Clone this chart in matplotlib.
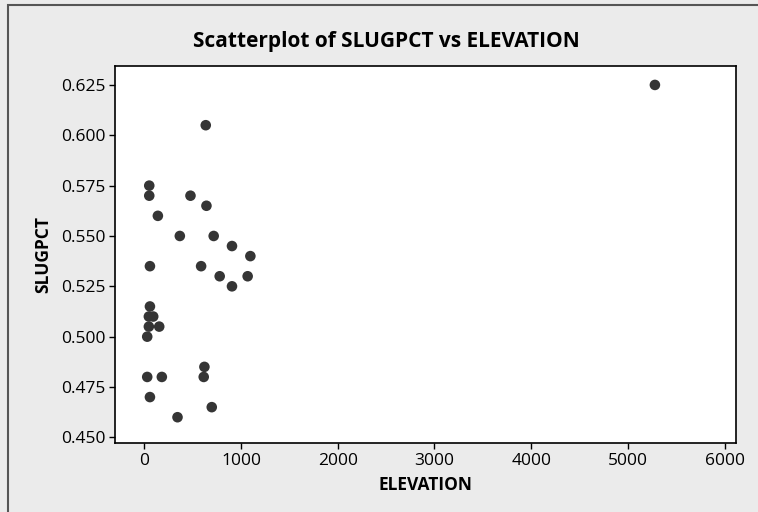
import matplotlib
matplotlib.use("Agg")
import matplotlib.pyplot as plt
from matplotlib.patches import Rectangle

plt.rcParams['font.family'] = ['Open Sans', 'DejaVu Sans']

elevation = [636, 52, 52, 478, 643, 141, 368, 718, 907, 1097, 5278,
             59, 588, 780, 1069, 907, 59, 48, 93, 48, 155, 31,
             622, 31, 182, 615, 59, 698, 344]
slugpct = [0.605, 0.575, 0.570, 0.570, 0.565, 0.560, 0.550, 0.550, 0.545, 0.540, 0.625,
           0.535, 0.535, 0.530, 0.530, 0.525, 0.515, 0.510, 0.510, 0.505, 0.505, 0.500,
           0.485, 0.480, 0.480, 0.480, 0.470, 0.465, 0.460]

x_ticks = [0, 1000, 2000, 3000, 4000, 5000, 6000]
y_ticks = [0.450, 0.475, 0.500, 0.525, 0.550, 0.575, 0.600, 0.625]

fig = plt.figure(figsize=(7.58, 5.12), dpi=100)
fig.patch.set_facecolor('#ebebeb')
fig.patches.append(Rectangle((8/758, -0.01), 1.02, 1 - 5/512 + 0.01, transform=fig.transFigure,
                             fill=False, edgecolor='#555555', linewidth=1.5))

ax = fig.add_axes([115/758, 1 - 443/512, (735.7 - 115)/758, (443 - 66)/512])
ax.set_facecolor('white')
ax.scatter(elevation, slugpct, s=58, color='#353535', edgecolors='none', zorder=3)

ax.set_xlim(-302, 6113)
ax.set_ylim(0.4472, 0.6344)
ax.set_xticks(x_ticks)
ax.set_xticklabels([str(v) for v in x_ticks])
ax.set_yticks(y_ticks)
ax.set_yticklabels([f"{v:.3f}" for v in y_ticks])
ax.tick_params(axis='both', direction='out', length=4, width=1, labelsize=12.5, pad=3, colors='black')

for sp in ax.spines.values():
    sp.set_linewidth(1.2)
    sp.set_color('black')

ax.set_xlabel('ELEVATION', fontsize=12.5, fontweight='bold', labelpad=5)
ax.set_ylabel('SLUGPCT', fontsize=12.5, fontweight='bold', labelpad=6)
fig.text(386/758, 1 - 41/512, 'Scatterplot of SLUGPCT vs ELEVATION', ha='center', va='center',
         fontsize=15, fontweight='bold')

fig.savefig('out.png', dpi=100, facecolor=fig.get_facecolor())
